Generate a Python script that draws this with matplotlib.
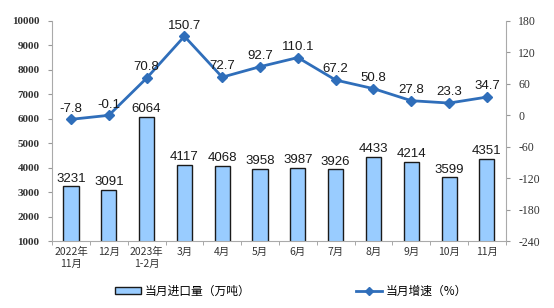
import numpy as np
import matplotlib
matplotlib.use("Agg")
import matplotlib.pyplot as plt

plt.rcParams['font.family'] = ['Noto Sans CJK SC', 'DejaVu Sans']
plt.rcParams['axes.unicode_minus'] = False

# Data
months = ["2022年\n11月", "12月", "2023年\n1-2月", "3月", "4月", "5月",
          "6月", "7月", "8月", "9月", "10月", "11月"]
imports = [3231, 3091, 6064, 4117, 4068, 3958, 3987, 3926, 4433, 4214, 3599, 4351]
growth = [-7.8, -0.1, 70.8, 150.7, 72.7, 92.7, 110.1, 67.2, 50.8, 27.8, 23.3, 34.7]

x = np.arange(len(months))

fig = plt.figure(figsize=(5.54, 3.08), dpi=100)
ax = fig.add_axes([0.094, 0.2175, 0.819, 0.7145])
ax2 = ax.twinx()

# Bars
ax.bar(x, imports, width=0.4, bottom=0, color='#99CCFF', edgecolor='#1a1a1a',
       linewidth=1.0, label='当月进口量（万吨）', zorder=2)
for xi, v in zip(x, imports):
    ax.text(xi, v + 80, str(v), ha='center', va='bottom', fontsize=9.5,
            family='Liberation Sans', color='#1a1a1a')

ax.set_ylim(1000, 10000)
ax.set_yticks(np.arange(1000, 10001, 1000))
ax.set_xlim(-0.5, 11.5)
ax.set_xticks(x)
ax.set_xticklabels(months, fontsize=7.5, color='#333333', linespacing=1.3)
ax.set_xticks(np.arange(-0.5, 12, 1), minor=True)
ax.tick_params(axis='x', which='major', length=0, pad=4)
ax.tick_params(axis='x', which='minor', length=3, color='#999999', direction='out')
ax.tick_params(axis='y', length=3, color='#999999', labelsize=8, pad=6)
for lab in ax.get_yticklabels():
    lab.set_family('Liberation Serif')
    lab.set_fontweight('bold')
    lab.set_color('#333333')

# Line
ax2.plot(x, growth, color='#2F6EBA', linewidth=2, marker='D', markersize=5,
         label='当月增速（%）', zorder=3)
for xi, v in zip(x, growth):
    ax2.text(xi, v + 9, f"{v:.1f}", ha='center', va='bottom', fontsize=9.5,
             family='Liberation Sans', color='#1a1a1a')
ax2.set_ylim(-240, 180)
ax2.set_yticks(np.arange(-240, 181, 60))
ax2.tick_params(axis='y', length=3, color='#999999', labelsize=8.5, pad=6)
for lab in ax2.get_yticklabels():
    lab.set_family('Liberation Serif')
    lab.set_color('#333333')

for a in (ax, ax2):
    a.spines['top'].set_visible(False)
    for s in ('left', 'right', 'bottom'):
        a.spines[s].set_color('#aaaaaa')
ax.spines['right'].set_visible(False)
ax2.spines['left'].set_visible(False)
ax2.spines['bottom'].set_visible(False)

h1, l1 = ax.get_legend_handles_labels()
h2, l2 = ax2.get_legend_handles_labels()
fig.legend(h1 + h2, l1 + l2, loc='center', bbox_to_anchor=(0.525, 0.055), ncol=2,
           frameon=False, fontsize=8.5, columnspacing=9, handlelength=2.2,
           handleheight=0.6, handletextpad=0.3, markerscale=0.8)

fig.savefig("out.png", dpi=100)
